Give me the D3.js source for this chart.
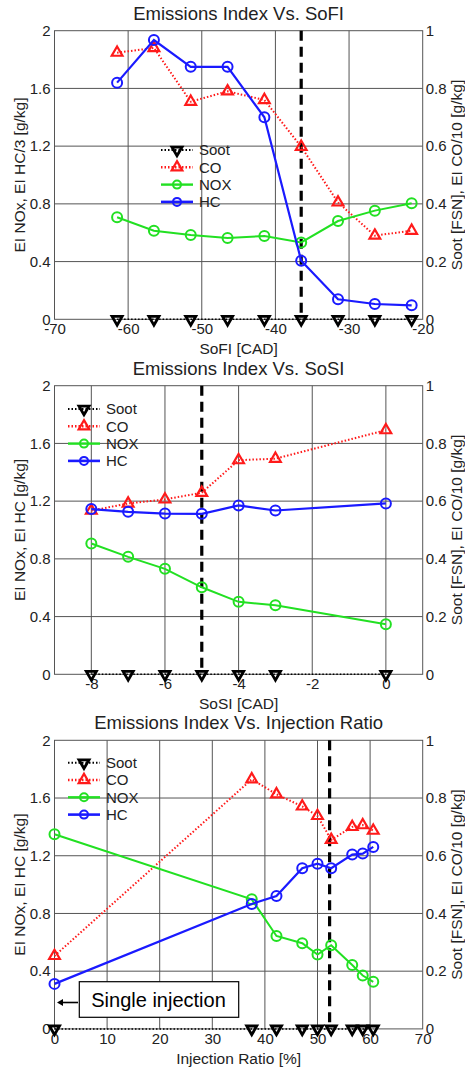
<!DOCTYPE html>
<html>
<head>
<meta charset="utf-8">
<script src="https://cdn.jsdelivr.net/npm/d3@7"></script>
<style>
  body { margin: 0; background: #fff; }
  svg { display: block; font-family: "Liberation Sans", Arial, sans-serif; }
</style>
</head>
<body>
<div id="chart"></div>
<script>
// panel 1: SoFI sweep (left axis NOx & HC/3, right axis soot & CO/10)
const sofiX = [-61.5, -56.5, -51.5, -46.5, -41.5, -36.5, -31.5, -26.5, -21.5];
const sofiSoot = [0, 0, 0, 0, 0, 0, 0, 0, 0];
const sofiCO = [0.924, 0.94, 0.754, 0.79, 0.76, 0.598, 0.405, 0.29, 0.307];
const sofiNOX = [0.707, 0.614, 0.584, 0.563, 0.577, 0.533, 0.681, 0.753, 0.804];
const sofiHC = [1.64, 1.935, 1.75, 1.75, 1.40, 0.406, 0.139, 0.106, 0.097];
const sofiTicks = [-70, -60, -50, -40, -30, -20];

// panel 2: SoSI sweep
const sosiX = [-8, -7, -6, -5, -4, -3, 0];
const sosiSoot = [0, 0, 0, 0, 0, 0, 0];
const sosiCO = [0.567, 0.592, 0.606, 0.629, 0.742, 0.747, 0.846];
const sosiNOX = [0.906, 0.814, 0.731, 0.603, 0.502, 0.479, 0.347];
const sosiHC = [1.145, 1.126, 1.114, 1.112, 1.17, 1.135, 1.184];
const sosiTicks = [-8, -6, -4, -2, 0];

// panel 3: injection ratio sweep
const irX = [0, 37.5, 42.2, 47.1, 50.0, 52.6, 56.6, 58.6, 60.6];
const irSoot = [0, 0, 0, 0, 0, 0, 0, 0, 0];
const irCO = [0.253, 0.865, 0.813, 0.771, 0.738, 0.655, 0.70, 0.706, 0.687];
const irNOX = [1.349, 0.898, 0.644, 0.594, 0.515, 0.58, 0.443, 0.37, 0.326];
const irHC = [0.312, 0.866, 0.921, 1.113, 1.145, 1.113, 1.208, 1.215, 1.261];
const irTicks = [0, 10, 20, 30, 40, 50, 60, 70];

const leftTicks = [0, 0.4, 0.8, 1.2, 1.6, 2];
const rightTicks = [0, 0.2, 0.4, 0.6, 0.8, 1];
const legendNames = ["Soot", "CO", "NOX", "HC"];

const W = 465, H = 1068;
const svg = d3.select('#chart').append('svg')
    .attr('width', W)
    .attr('height', H);

const plotL = 54.5, plotR = 422.7, plotH = 288.6;
const colRed = '#ff1a1a', colGreen = '#22e022', colBlue = '#1a1aff';
const gridCol = '#555';

function drawPanel(p) {
    const g = svg.append('g');
    const x = d3.scaleLinear().domain(p.xDomain).range([plotL, plotR]);
    const yL = d3.scaleLinear().domain([0, 2]).range([p.top + plotH, p.top]);
    const yR = d3.scaleLinear().domain([0, 1]).range([p.top + plotH, p.top]);
    const bottom = p.top + plotH;

    // title
    g.append('text')
        .attr('x', (plotL + plotR) / 2).attr('y', p.top - 11)
        .attr('text-anchor', 'middle')
        .style('font-size', '18.5px').style('fill', '#222')
        .text(p.title);

    // grid
    g.append('g').selectAll('line').data(p.xGrid)
        .enter().append('line')
        .attr('x1', d => x(d)).attr('x2', d => x(d))
        .attr('y1', p.top).attr('y2', bottom)
        .style('stroke', gridCol).style('stroke-width', 1);
    g.append('g').selectAll('line').data(leftTicks.slice(1, -1))
        .enter().append('line')
        .attr('x1', plotL).attr('x2', plotR)
        .attr('y1', d => yL(d)).attr('y2', d => yL(d))
        .style('stroke', gridCol).style('stroke-width', 1);

    // box
    g.append('rect')
        .attr('x', plotL).attr('y', p.top)
        .attr('width', plotR - plotL).attr('height', plotH)
        .style('fill', 'none').style('stroke', gridCol).style('stroke-width', 1);

    // axes (text only, MATLAB-like)
    const ax = g.append('g').attr('transform', `translate(0,${bottom})`)
        .call(d3.axisBottom(x).tickValues(p.xTicks).tickSize(0).tickPadding(4).tickFormat(d => String(d)));
    const ayL = g.append('g').attr('transform', `translate(${plotL},0)`)
        .call(d3.axisLeft(yL).tickValues(leftTicks).tickSize(0).tickPadding(4).tickFormat(d => d === 0 || d === 2 ? d : d.toFixed(1)));
    const ayR = g.append('g').attr('transform', `translate(${plotR},0)`)
        .call(d3.axisRight(yR).tickValues(rightTicks).tickSize(0).tickPadding(3).tickFormat(d => d === 0 || d === 1 ? d : d.toFixed(1)));
    [ax, ayL, ayR].forEach(a => {
        a.select('.domain').remove();
        a.selectAll('text').style('font-size', '15px').style('fill', '#222').style('font-family', '"Liberation Sans", Arial, sans-serif');
    });

    // axis labels
    g.append('text')
        .attr('x', (plotL + plotR) / 2).attr('y', bottom + 35)
        .attr('text-anchor', 'middle')
        .style('font-size', '15.5px').style('fill', '#222')
        .text(p.xLabel);
    g.append('text')
        .attr('transform', `translate(25,${p.top + plotH / 2}) rotate(-90)`)
        .attr('text-anchor', 'middle')
        .style('font-size', '15.5px').style('fill', '#222')
        .text(p.yLabel);
    g.append('text')
        .attr('transform', `translate(462,${p.top + plotH / 2}) rotate(-90)`)
        .attr('text-anchor', 'middle')
        .style('font-size', '15.5px').style('fill', '#222')
        .text('Soot [FSN], EI CO/10 [g/kg]');

    // series
    const series = [
        { vals: p.soot, y: yR, color: '#000', dash: '1.5,2', marker: 'down', w: 1.5 },
        { vals: p.co, y: yR, color: colRed, dash: '1.5,2', marker: 'up', w: 2 },
        { vals: p.nox, y: yL, color: colGreen, dash: null, marker: 'circle', w: 2 },
        { vals: p.hc, y: yL, color: colBlue, dash: null, marker: 'circle', w: 2.2 }
    ];

    // dashed marker line behind the data
    g.append('line')
        .attr('x1', x(p.vline)).attr('x2', x(p.vline))
        .attr('y1', p.top).attr('y2', bottom)
        .style('stroke', '#000').style('stroke-width', 3.2)
        .style('stroke-dasharray', '10,6');

    const line = (ys) => d3.line().x(d => x(d[0])).y(d => ys(d[1]));
    series.forEach(s => {
        const pts = p.xs.map((xv, i) => [xv, s.vals[i]]);
        g.append('path')
            .datum(pts)
            .attr('d', line(s.y))
            .style('fill', 'none').style('stroke', s.color)
            .style('stroke-width', s.w)
            .style('stroke-dasharray', s.dash);
        drawMarkers(g, pts.map(d => [x(d[0]), s.y(d[1])]), s, 5);
    });

    // legend
    const lg = g.append('g');
    legendNames.forEach((name, i) => {
        const s = series[i];
        const ly = p.legY + i * 17.3;
        lg.append('line')
            .attr('x1', p.legX).attr('x2', p.legX + 32)
            .attr('y1', ly).attr('y2', ly)
            .style('stroke', s.color).style('stroke-width', s.w + 0.4)
            .style('stroke-dasharray', s.dash);
        drawMarkers(lg, [[p.legX + 16, ly]], s, 4);
        lg.append('text')
            .attr('x', p.legX + 38).attr('y', ly)
            .attr('dy', '0.35em')
            .style('font-size', '15px').style('fill', '#222')
            .text(name);
    });
    return { g, x, yL };
}

function drawMarkers(g, pts, s, r) {
    if (s.marker === 'circle') {
        g.selectAll(null).data(pts).enter().append('circle')
            .attr('cx', d => d[0]).attr('cy', d => d[1]).attr('r', r)
            .style('fill', 'none').style('stroke', s.color).style('stroke-width', 2);
    } else {
        const down = s.marker === 'down';
        const tri = d3.symbol().type(d3.symbolTriangle).size(down ? 44 : 50);
        g.selectAll(null).data(pts).enter().append('path')
            .attr('d', tri)
            .attr('transform', d => `translate(${d[0]},${d[1]})` + (down ? ' rotate(180)' : ''))
            .style('fill', 'none').style('stroke', s.color).style('stroke-width', down ? 2.8 : 2.2);
    }
}

drawPanel({
    title: 'Emissions Index Vs. SoFI', top: 30.7,
    xDomain: [-70, -20], xTicks: sofiTicks, xGrid: [-60, -50, -40, -30],
    xs: sofiX, soot: sofiSoot, co: sofiCO, nox: sofiNOX, hc: sofiHC,
    vline: -36.5, xLabel: 'SoFI [CAD]', yLabel: 'EI NOx, EI HC/3 [g/kg]',
    legX: 161, legY: 150
});

drawPanel({
    title: 'Emissions Index Vs. SoSI', top: 385.7,
    xDomain: [-9, 1], xTicks: sosiTicks, xGrid: sosiTicks,
    xs: sosiX, soot: sosiSoot, co: sosiCO, nox: sosiNOX, hc: sosiHC,
    vline: -5, xLabel: 'SoSI [CAD]', yLabel: 'EI NOx, EI HC [g/kg]',
    legX: 68, legY: 409
});

const p3 = drawPanel({
    title: 'Emissions Index Vs. Injection Ratio', top: 740.3,
    xDomain: [0, 70], xTicks: irTicks, xGrid: [10, 20, 30, 40, 50, 60],
    xs: irX, soot: irSoot, co: irCO, nox: irNOX, hc: irHC,
    vline: 52.3, xLabel: 'Injection Ratio [%]', yLabel: 'EI NOx, EI HC [g/kg]',
    legX: 68, legY: 762.7
});

// "Single injection" callout
const ann = p3.g.append('g');
ann.append('rect')
    .attr('x', 79.3).attr('y', 981.7)
    .attr('width', 159.4).attr('height', 35.6)
    .style('fill', '#fff').style('stroke', '#000').style('stroke-width', 1.2);
ann.append('text')
    .attr('x', 158.5).attr('y', 999.5).attr('dy', '0.35em')
    .attr('text-anchor', 'middle')
    .style('font-size', '20px').style('fill', '#000')
    .text('Single injection');
ann.append('line')
    .attr('x1', 78).attr('x2', 61)
    .attr('y1', 1002.5).attr('y2', 1002.5)
    .style('stroke', '#000').style('stroke-width', 1.6);
ann.append('path')
    .attr('d', 'M57,1002.5 L63,999 L63,1006 Z')
    .style('fill', '#000');
</script>
</body>
</html>
